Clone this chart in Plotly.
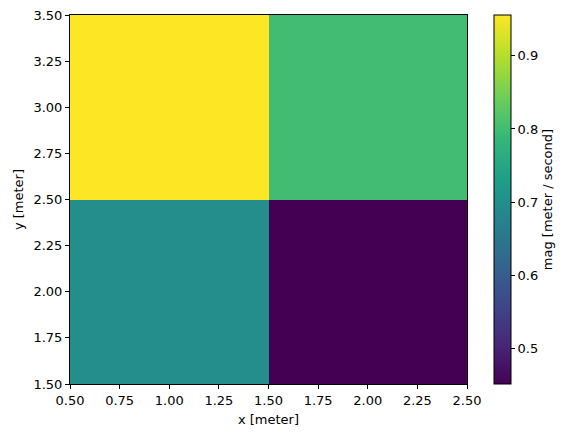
import plotly.graph_objects as go

x_vals = [1.0, 2.0]
y_vals = [2.0, 3.0]
mag = [[0.70, 0.451],
       [0.956, 0.80]]
tick_vals = [0.5, 0.75, 1.0, 1.25, 1.5, 1.75, 2.0, 2.25, 2.5]
ytick_vals = [1.5, 1.75, 2.0, 2.25, 2.5, 2.75, 3.0, 3.25, 3.5]
cbar_ticks = [0.5, 0.6, 0.7, 0.8, 0.9]

fig = go.Figure(go.Heatmap(
    x=x_vals, y=y_vals, z=mag,
    colorscale="Viridis", zmin=0.451, zmax=0.956,
    colorbar=dict(
        xref="container", x=494 / 571, xanchor="left", xpad=0, ypad=0,
        thickness=17, thicknessmode="pixels",
        len=369, lenmode="pixels", y=0.5, yanchor="middle",
        outlinecolor="black", outlinewidth=1,
        ticks="outside", ticklen=4, tickcolor="black",
        tickvals=cbar_ticks, ticktext=[f"{v:.1f}" for v in cbar_ticks],
        title=dict(text="mag [meter / second]", side="right", font=dict(size=13)),
        tickfont=dict(size=13),
    ),
))

axis_common = dict(
    showgrid=False, zeroline=False, showline=True, linecolor="black", linewidth=1,
    mirror=True, ticks="outside", ticklen=4, tickcolor="black",
    tickfont=dict(size=13), automargin=False,
)
fig.update_xaxes(range=[0.5, 2.5], tickvals=tick_vals,
                 ticktext=[f"{v:.2f}" for v in tick_vals],
                 title=dict(text="x [meter]", font=dict(size=13), standoff=8), **axis_common)
fig.update_yaxes(range=[1.5, 3.5], tickvals=ytick_vals,
                 ticktext=[f"{v:.2f}" for v in ytick_vals],
                 title=dict(text="y [meter]", font=dict(size=13), standoff=6), **axis_common)

fig.update_layout(
    width=571, height=438,
    margin=dict(l=70, r=104, t=15, b=54, autoexpand=False),
    paper_bgcolor="white", plot_bgcolor="white",
    font=dict(family="DejaVu Sans", color="black", size=13),
)
# drop the browser's default 8px body margin so the figure sits at the page corner
fig.write_html("out.html", config={"displayModeBar": False},
               post_script="document.body.style.margin='0';")
